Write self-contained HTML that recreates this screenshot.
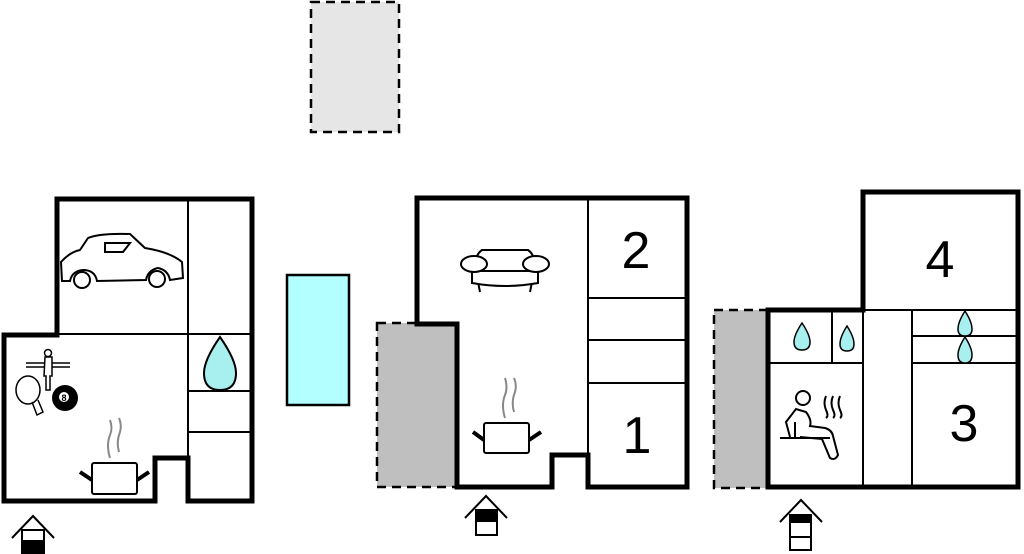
<!DOCTYPE html>
<html><head><meta charset="utf-8"><style>
html,body{margin:0;padding:0;background:#fff;width:1024px;height:554px;overflow:hidden}
svg{display:block}
text{font-family:"Liberation Sans",sans-serif}
</style></head><body>
<svg width="1024" height="554" viewBox="0 0 1024 554" xmlns="http://www.w3.org/2000/svg">
<!-- top dashed -->
<rect x="311" y="2" width="88" height="130" fill="#e6e6e6" stroke="#000" stroke-width="2.5" stroke-dasharray="9,6"/>
<!-- pool -->
<rect x="287" y="275" width="62" height="130" fill="#b3ffff" stroke="#000" stroke-width="2.5"/>

<!-- Plan 1 -->
<g fill="none" stroke="#000">
<path d="M57,199 H252 V501 H188 V458 H155 V501 H4 V335 H57 Z" stroke-width="5"/>
<path d="M188,199 V501 M57,334 H252 M188,391 H252 M188,432 H252" stroke-width="2"/>
</g>
<!-- car -->
<g fill="none" stroke="#000" stroke-width="2">
<path d="M62,281 L61,262 Q70,252 80,250 L88,238 Q100,233 130,234 L145,248 Q170,252 182,262 L183,278 L170,280 Q168,270 158,268 Q148,270 146,280 L97,281 Q95,270 83,270 Q72,271 70,281 Z"/>
<circle cx="82" cy="280" r="8"/><circle cx="157" cy="279" r="8"/>
<path d="M105,243 H130 L123,252 H105 Z"/>
</g>
<!-- drop -->
<path d="M220,337 Q236,360 236,373 Q236,390 220,390 Q204,390 204,373 Q204,360 220,337 Z" fill="#a8f0f0" stroke="#000" stroke-width="2"/>
<!-- games -->
<g stroke="#000" fill="none" stroke-width="1.5">
<path d="M26,363 H70 M26,367 H70"/>
<circle cx="48" cy="353" r="3.5" fill="#fff"/>
<path d="M45,357 H52 V376 H50 V390 H46 V376 H44 Z" fill="#fff"/>
<ellipse cx="28" cy="390" rx="12" ry="14" fill="#fff"/>
<path d="M32,402 L37,415 L43,412 L38,400"/>
</g>
<circle cx="65" cy="398" r="13" fill="#000"/>
<circle cx="64" cy="397" r="5" fill="#fff"/>
<text x="64" y="401" font-size="9" text-anchor="middle" font-weight="bold">8</text>
<!-- pot 1 -->
<g stroke="#888" stroke-width="2" fill="none"><path d="M110,458 Q106,445 110,435 Q113,428 110,420 M119,452 Q116,442 120,432 Q122,425 119,418"/></g>
<g stroke="#000" fill="#fff"><rect x="92" y="463" width="45" height="31" rx="2" stroke-width="2"/><path d="M80,472 L92,480 M137,480 L149,472" stroke-width="4"/></g>

<!-- Plan 2 -->
<rect x="377" y="323" width="80" height="164" fill="#bfbfbf" stroke="#000" stroke-width="2.5" stroke-dasharray="9,6"/>
<g fill="none" stroke="#000">
<path d="M417,198 H687 V487 H588 V455 H552 V487 H457 V324 H417 Z" stroke-width="5"/>
<path d="M588,198 V487 M588,298 H687 M588,340 H687 M588,383 H687" stroke-width="2"/>
</g>
<text x="636" y="268" font-size="52" text-anchor="middle">2</text>
<text x="637" y="453" font-size="52" text-anchor="middle">1</text>
<!-- sofa -->
<g stroke="#000" stroke-width="2" fill="#fff">
<path d="M477,277 Q472,257 482,250 H528 Q538,257 533,277 Z"/>
<path d="M480,292 L478,282 M530,292 L532,282"/>
<path d="M472,271 H538 V283 Q505,289 472,283 Z"/>
<ellipse cx="474" cy="264" rx="13" ry="8"/><ellipse cx="536" cy="264" rx="13" ry="8"/>
</g>
<g stroke="#888" stroke-width="2" fill="none"><path d="M505,418 Q501,405 505,395 Q508,388 505,378 M514,412 Q511,402 515,392 Q517,385 514,378"/></g>
<g stroke="#000" fill="#fff"><rect x="484" y="423" width="45" height="30" rx="2" stroke-width="2"/><path d="M473,432 L484,440 M529,440 L541,432" stroke-width="4"/></g>

<!-- Plan 3 -->
<rect x="714" y="310" width="54" height="178" fill="#bfbfbf" stroke="#000" stroke-width="2.5" stroke-dasharray="9,6"/>
<g fill="none" stroke="#000">
<path d="M863,192 H1018 V487 H768 V310 H863 Z" stroke-width="5"/>
<path d="M863,310 V487 M912,310 V487 M832,310 V363 M768,363 H863 M912,336 H1018 M912,363 H1018 M863,310 H1018" stroke-width="2"/>
</g>
<text x="940" y="277" font-size="52" text-anchor="middle">4</text>
<text x="964" y="441" font-size="52" text-anchor="middle">3</text>
<g fill="#a8f0f0" stroke="#000" stroke-width="1.5">
<path d="M802,323 Q810,335 810,342 Q810,350 802,350 Q794,350 794,342 Q794,335 802,323Z"/>
<path d="M847,326 Q854,337 854,344 Q854,351 847,351 Q840,351 840,344 Q840,337 847,326Z"/>
<path d="M965,311 Q972,322 972,329 Q972,336 965,336 Q958,336 958,329 Q958,322 965,311Z"/>
<path d="M965,337 Q972,348 972,355 Q972,363 965,363 Q958,363 958,355 Q958,348 965,337Z"/>
</g>
<!-- sauna person -->
<g stroke="#000" stroke-width="2" fill="none">
<circle cx="803" cy="398" r="7"/>
<path d="M780,438 H830 M790,437 L786,422 L796,409 L806,412 Q812,420 810,426 L825,428 Q832,430 833,436 L838,455 Q835,461 830,458 L822,439 L800,437 M795,422 L795,437"/>
<path d="M826,396 Q823,403 826,410 Q829,416 826,418 M833,396 Q830,403 833,410 Q836,416 833,418 M840,396 Q837,403 840,410 Q843,416 840,418"/>
</g>

<!-- entrance icons -->
<g stroke="#000" stroke-width="2" fill="none">
<path d="M12,538 L33,516 L54,538"/>
<rect x="22" y="530" width="22" height="26" fill="#fff"/>
<rect x="22" y="541" width="22" height="15" fill="#000"/>
<path d="M465,518 L486,496 L507,518"/>
<rect x="476" y="510" width="21" height="25" fill="#fff"/>
<rect x="476" y="510" width="21" height="11" fill="#000"/>
<path d="M780,522 L801,500 L822,522"/>
<rect x="790" y="515" width="21" height="35" fill="#fff"/>
<rect x="790" y="515" width="21" height="7" fill="#000"/>
<path d="M790,537 H811"/>
</g>
</svg>
</body></html>
